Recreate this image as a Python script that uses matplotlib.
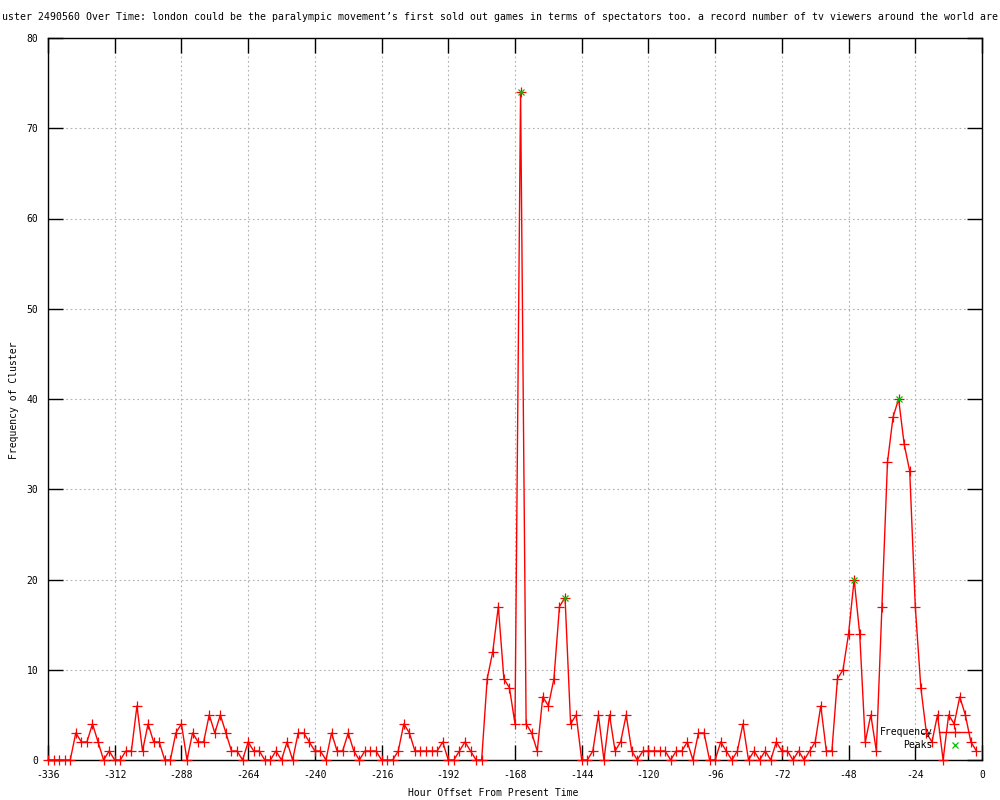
import matplotlib
matplotlib.use("Agg")
import matplotlib.pyplot as plt

#====================DATA====================

# hour offsets, one point every 2 hours
hours = list(range(-336, 0, 2))

frequency = [
    0, 0, 0, 0, 0, 3, 2, 2, 4, 2,
    0, 1, 0, 0, 1, 1, 6, 1, 4, 2,
    2, 0, 0, 3, 4, 0, 3, 2, 2, 5,
    3, 5, 3, 1, 1, 0, 2, 1, 1, 0,
    0, 1, 0, 2, 0, 3, 3, 2, 1, 1,
    0, 3, 1, 1, 3, 1, 0, 1, 1, 1,
    0, 0, 0, 1, 4, 3, 1, 1, 1, 1,
    1, 2, 0, 0, 1, 2, 1, 0, 0, 9,
    12, 17, 9, 8, 4, 74, 4, 3, 1, 7,
    6, 9, 17, 18, 4, 5, 0, 0, 1, 5,
    0, 5, 1, 2, 5, 1, 0, 1, 1, 1,
    1, 1, 0, 1, 1, 2, 0, 3, 3, 0,
    0, 2, 1, 0, 1, 4, 0, 1, 0, 1,
    0, 2, 1, 1, 0, 1, 0, 1, 2, 6,
    1, 1, 9, 10, 14, 20, 14, 2, 5, 1,
    17, 33, 38, 40, 35, 32, 17, 8, 3, 2,
    5, 0, 5, 4, 7, 5, 2, 1,
]

peak_hours = [-166, -150, -46, -30]
peak_values = [74, 18, 20, 40]

title_text = ("uster 2490560 Over Time: london could be the paralympic movement\u2019s "
              "first sold out games in terms of spectators too. a record number of tv "
              "viewers around the world are")

x_ticks = list(range(-336, 1, 24))
y_ticks = list(range(0, 81, 10))

#====================PLOT====================

plt.rcParams['font.family'] = ['DejaVu Sans Mono']
fs = 7

fig = plt.figure(figsize=(10, 8), dpi=100)
ax = fig.add_axes([0.048, 0.05, 0.934, 0.9025])

ax.plot(hours, frequency, color='red', lw=1.0, marker='+', ms=6.5, mew=0.9,
        label='Frequency', clip_on=False, zorder=3)
ax.plot(peak_hours, peak_values, ls='none', color='#00c000', marker='x', ms=5,
        mew=0.9, label='Peaks', clip_on=False, zorder=4)

ax.set_xlim(-336, 0)
ax.set_ylim(0, 80)
ax.set_xticks(x_ticks)
ax.set_yticks(y_ticks)
ax.set_xticklabels([str(t) for t in x_ticks], fontsize=fs)
ax.set_yticklabels([str(t) for t in y_ticks], fontsize=fs)
ax.tick_params(direction='in', length=11, width=1, top=True, right=True,
               labelsize=fs, pad=7)
ax.grid(True, color='#b0b0b0', lw=0.8, ls=(0, (1.5, 2.5)))
ax.set_axisbelow(True)
for s in ax.spines.values():
    s.set_linewidth(1)

fig.text(0.5, 0.979, title_text, ha='center', va='center', fontsize=7.15)
fig.text(0.493, 0.009, 'Hour Offset From Present Time', ha='center', va='center', fontsize=fs)
fig.text(0.014, 0.5, 'Frequency of Cluster', ha='center', va='center',
         rotation=90, fontsize=fs)

ax.legend(loc='lower right', bbox_to_anchor=(0.992, 0.008), frameon=False,
          markerfirst=False, handlelength=3.3, handletextpad=0.6,
          labelspacing=0.35, borderaxespad=0, fontsize=fs)

fig.savefig('out.png', dpi=100)
